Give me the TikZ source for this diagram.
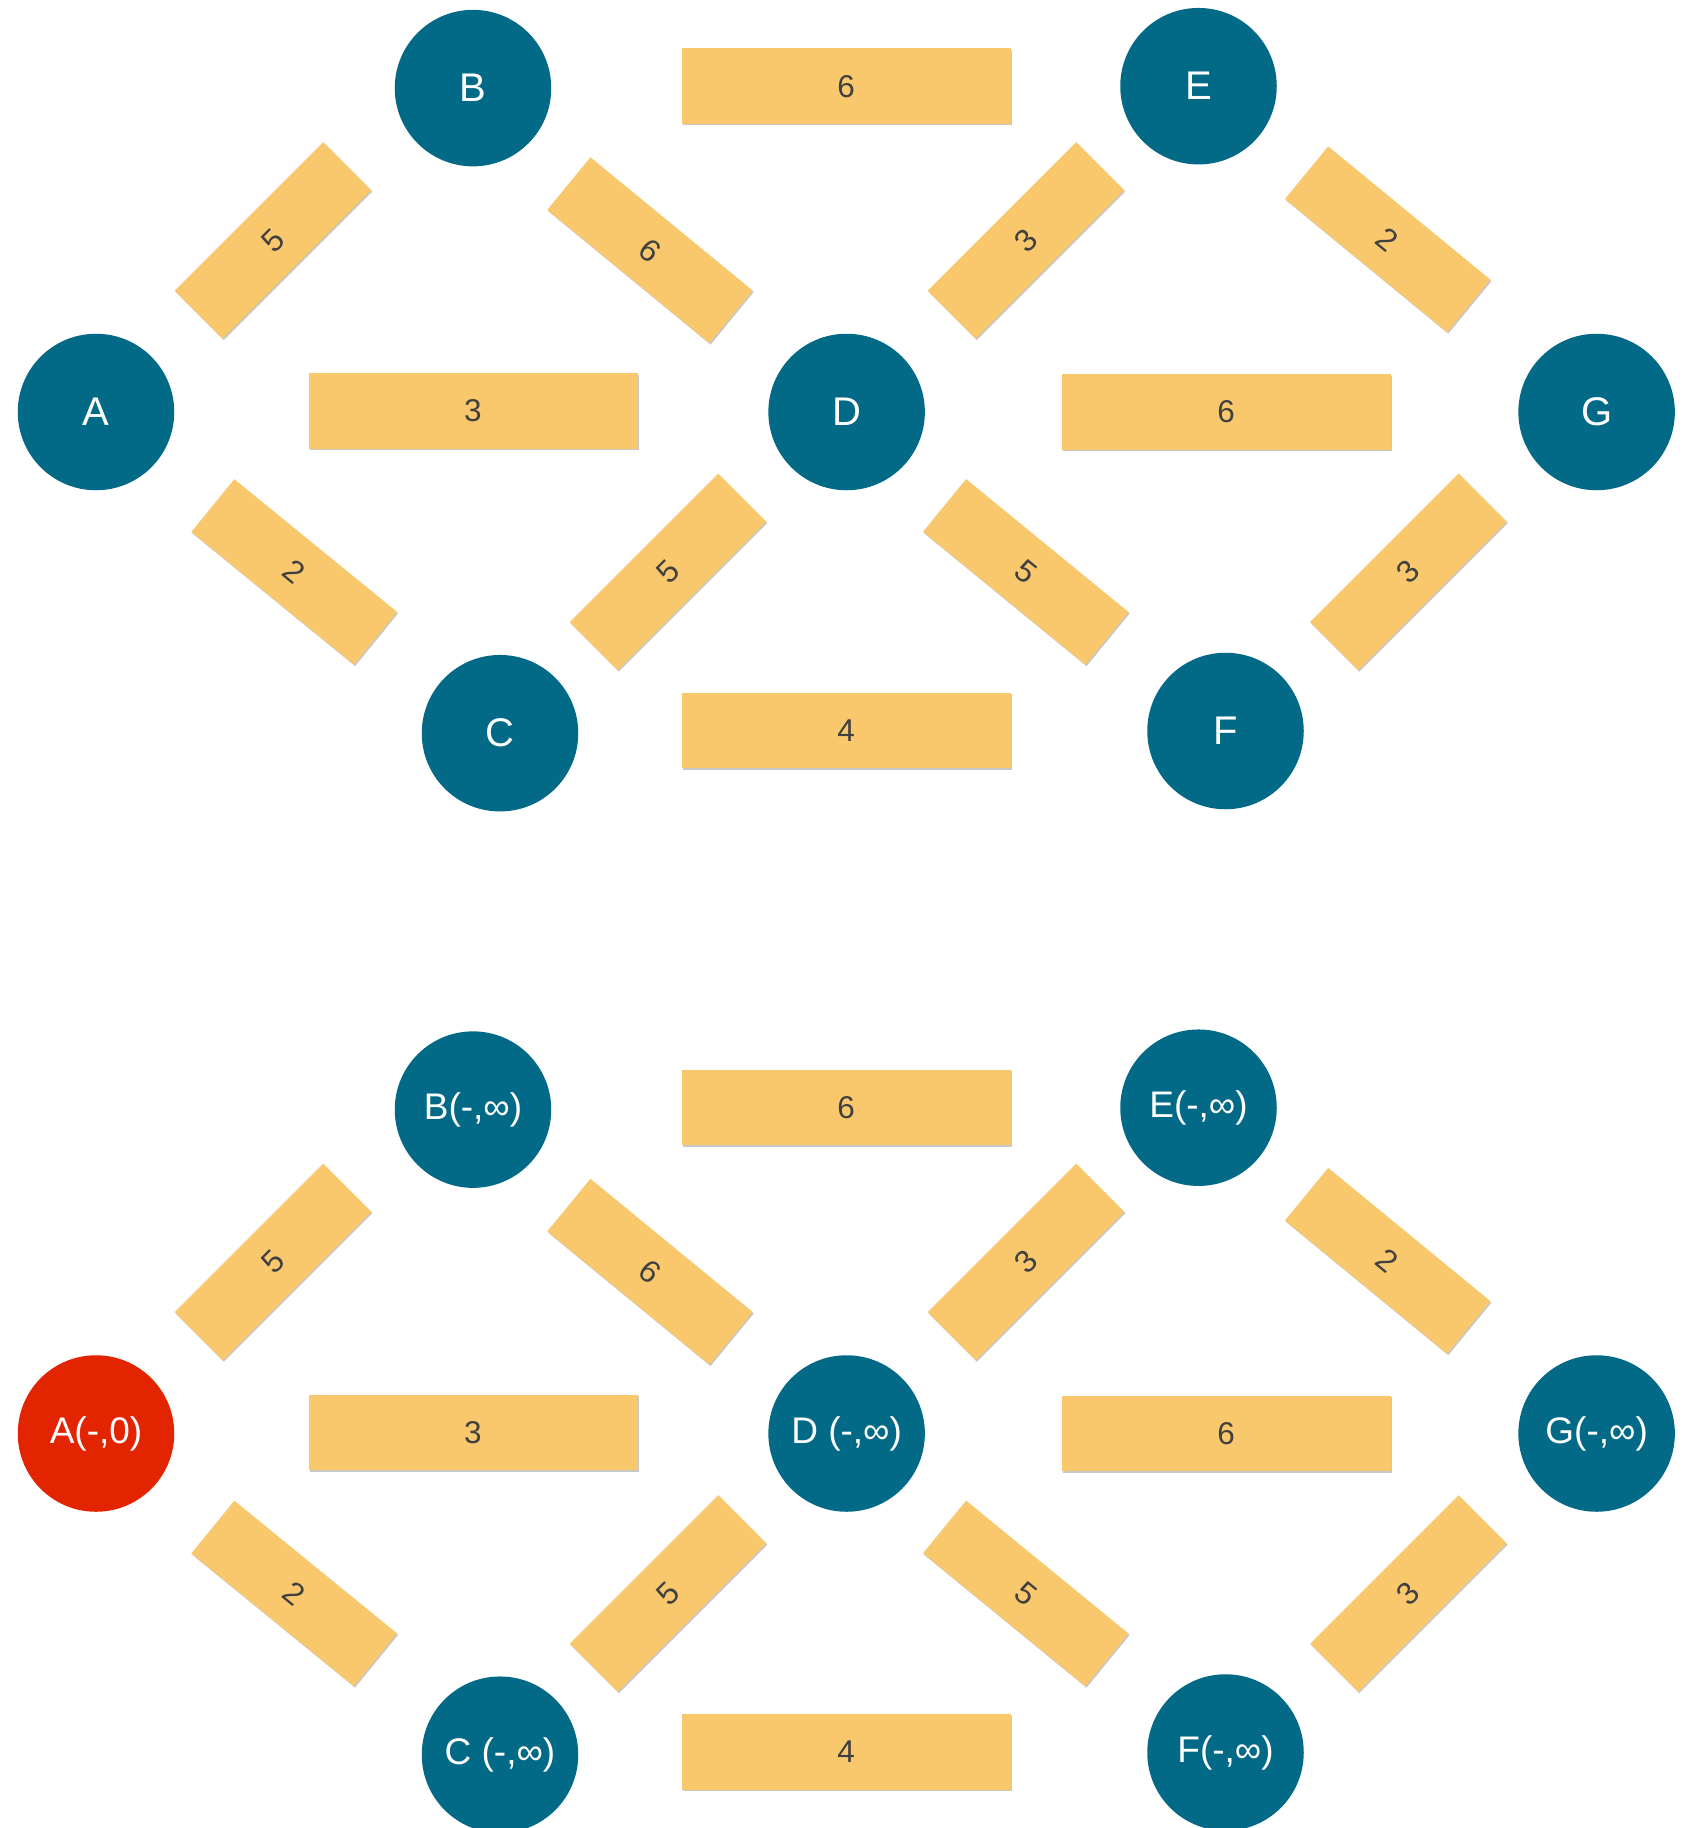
\documentclass[tikz,border=0pt]{standalone}
\usepackage{fontspec}
\setmainfont{Liberation Sans}
\usetikzlibrary{shadows}
\definecolor{nodeblue}{RGB}{2,106,135}
\definecolor{nodered}{RGB}{226,36,0}
\definecolor{edgeyel}{RGB}{249,200,108}
\definecolor{labgray}{RGB}{64,64,64}
\begin{document}
\begin{tikzpicture}[x=1pt,y=-1pt,
  vertex/.style={circle, fill=nodeblue, minimum size=156.5pt, inner sep=0pt, text=white, font=\fontsize{40}{48}\selectfont},
  vertexb/.style={vertex, font=\fontsize{37}{44}\selectfont},
  startv/.style={vertexb, fill=nodered},
  hedge/.style={rectangle, fill=edgeyel, minimum width=329pt, minimum height=75.5pt, inner sep=0pt, text=labgray, font=\fontsize{31.5}{38}\selectfont, drop shadow={shadow xshift=1pt, shadow yshift=-1.5pt, opacity=0.22, fill=black}},
  dedge/.style={hedge, minimum width=210pt, minimum height=68pt},
]
\useasboundingbox (0,0) rectangle (1690,1828);
\fill[white] (0,0) rectangle (1690,1828);

% ---------- top graph ----------
\begin{scope}
  \node[dedge, rotate=45]    (ab) at (273,240.4)    {5};
  \node[dedge, rotate=-39.4] (bd) at (650,250.2)    {6};
  \node[dedge, rotate=-39.2] (ac) at (294.2,571.9)  {2};
  \node[dedge, rotate=45]    (cd) at (668,571.9)    {5};
  \node[dedge, rotate=45]    (de) at (1026,240.4)   {3};
  \node[dedge, rotate=-39.4] (eg) at (1387.7,239.3) {2};
  \node[dedge, rotate=-39.3] (df) at (1025.8,571.9) {5};
  \node[dedge, rotate=45]    (fg) at (1408.4,571.9) {3};
  \node[hedge] (be)  at (846,86.2)   {6};
  \node[hedge] (adh) at (473,410.9)  {3};
  \node[hedge] (dg)  at (1226,412)   {6};
  \node[hedge] (cf)  at (846,730.5)  {4};
  \node[vertex] (A) at (96,412)      {A};
  \node[vertex] (B) at (473,88.1)    {B};
  \node[vertex] (C) at (500,733.2)   {C};
  \node[vertex] (D) at (846.6,412)   {D};
  \node[vertex] (E) at (1198.5,86.2) {E};
  \node[vertex] (F) at (1225.5,731)  {F};
  \node[vertex] (G) at (1596.6,412)  {G};
\end{scope}

% ---------- bottom graph ----------
\begin{scope}[shift={(0,1021.5)}]
  \node[dedge, rotate=45]    (ab2) at (273,240.4)    {5};
  \node[dedge, rotate=-39.4] (bd2) at (650,250.2)    {6};
  \node[dedge, rotate=-39.2] (ac2) at (294.2,571.9)  {2};
  \node[dedge, rotate=45]    (cd2) at (668,571.9)    {5};
  \node[dedge, rotate=45]    (de2) at (1026,240.4)   {3};
  \node[dedge, rotate=-39.4] (eg2) at (1387.7,239.3) {2};
  \node[dedge, rotate=-39.3] (df2) at (1025.8,571.9) {5};
  \node[dedge, rotate=45]    (fg2) at (1408.4,571.9) {3};
  \node[hedge] (be2)  at (846,86.2)   {6};
  \node[hedge] (adh2) at (473,410.9)  {3};
  \node[hedge] (dg2)  at (1226,412)   {6};
  \node[hedge] (cf2)  at (846,730.5)  {4};
  \node[startv]  (A2) at (96,412)      {A(-,0)};
  \node[vertexb] (B2) at (473,88.1)    {B(-,∞)};
  \node[vertexb] (C2) at (500,733.2)   {C (-,∞)};
  \node[vertexb] (D2) at (846.6,412)   {D (-,∞)};
  \node[vertexb] (E2) at (1198.5,86.2) {E(-,∞)};
  \node[vertexb] (F2) at (1225.5,731)  {F(-,∞)};
  \node[vertexb] (G2) at (1596.6,412)  {G(-,∞)};
\end{scope}
\end{tikzpicture}
\end{document}
